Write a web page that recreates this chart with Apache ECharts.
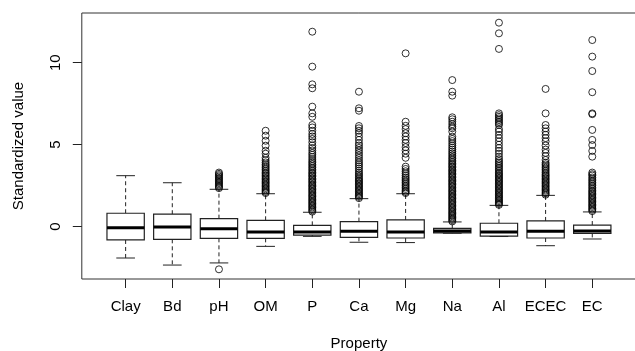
<!DOCTYPE html>
<html>
<head>
<meta charset="utf-8">
<script src="https://cdn.jsdelivr.net/npm/echarts@6/dist/echarts.min.js"></script>
<style>
  html, body { margin: 0; padding: 0; background: #fff; }
  #chart { width: 635px; height: 351px; }
</style>
</head>
<body>
<div id="chart"></div>
<script>
// box statistics
const categories = ["Clay", "Bd", "pH", "OM", "P", "Ca", "Mg", "Na", "Al", "ECEC", "EC"];
const whiskerLow  = [-1.91, -2.34, -2.21, -1.20, -0.59, -0.95, -0.97, -0.40, -0.60, -1.16, -0.75];
const q1          = [-0.81, -0.77, -0.71, -0.71, -0.51, -0.65, -0.69, -0.38, -0.57, -0.69, -0.41];
const median      = [-0.06, -0.02, -0.12, -0.32, -0.32, -0.28, -0.32, -0.26, -0.32, -0.28, -0.26];
const q3          = [0.82, 0.76, 0.49, 0.39, 0.08, 0.31, 0.41, -0.10, 0.21, 0.35, 0.10];
const whiskerHigh = [3.11, 2.68, 2.28, 2.01, 0.88, 1.71, 2.01, 0.29, 1.30, 1.91, 0.90];

const yTicks = [0, 5, 10];

// outliers per property
const outPh = [-2.6, 2.35, 2.42, 2.5, 2.58, 2.66, 2.74, 2.82, 2.9, 2.98, 3.06, 3.14, 3.22, 3.3];
const outOM = [2.05, 2.12, 2.2, 2.28, 2.36, 2.45, 2.53, 2.62, 2.7, 2.78, 2.87, 2.95, 3.04, 3.13,
  3.22, 3.3, 3.4, 3.5, 3.6, 3.7, 3.8, 3.92, 4.05, 4.2, 4.45, 4.63, 4.94, 5.24, 5.55, 5.85];
const outP = [0.92, 1.0, 1.08, 1.17, 1.25, 1.33, 1.42, 1.5, 1.58, 1.67, 1.75, 1.84, 1.92, 2.0,
  2.1, 2.18, 2.27, 2.35, 2.44, 2.52, 2.6, 2.7, 2.78, 2.87, 2.95, 3.05, 3.13, 3.22, 3.3, 3.4,
  3.5, 3.6, 3.7, 3.8, 3.9, 4.0, 4.12, 4.25, 4.38, 4.5, 4.65, 4.8, 4.95, 5.15, 5.35, 5.5,
  5.65, 5.85, 6.05, 6.2, 6.7, 6.91, 7.32, 8.44, 8.68, 9.76, 11.89];
const outCa = [1.74, 1.82, 1.9, 1.98, 2.06, 2.15, 2.23, 2.31, 2.4, 2.48, 2.57, 2.65, 2.74, 2.82,
  2.9, 3.0, 3.1, 3.2, 3.3, 3.42, 3.55, 3.68, 3.8, 3.92, 4.05, 4.2, 4.35, 4.5, 4.65, 4.8, 4.95,
  5.09, 5.29, 5.49, 5.7, 5.85, 6.0, 6.14, 7.07, 7.22, 8.23];
const outMg = [2.05, 2.12, 2.2, 2.3, 2.4, 2.5, 2.6, 2.7, 2.8, 2.9, 3.0, 3.12, 3.25, 3.38, 3.52,
  3.66, 4.2, 4.45, 4.65, 4.85, 5.1, 5.3, 5.5, 5.7, 5.95, 6.15, 6.4, 10.57];
const outNa = [0.32, 0.4, 0.48, 0.56, 0.64, 0.72, 0.8, 0.88, 0.96, 1.05, 1.13, 1.21, 1.3, 1.38,
  1.46, 1.55, 1.63, 1.72, 1.8, 1.88, 1.97, 2.05, 2.14, 2.22, 2.3, 2.4, 2.48, 2.57, 2.65, 2.74,
  2.82, 2.9, 3.0, 3.08, 3.17, 3.25, 3.34, 3.42, 3.5, 3.6, 3.68, 3.77, 3.86, 3.95, 4.05, 4.15,
  4.25, 4.36, 4.47, 4.58, 4.7, 4.82, 4.95, 5.08, 5.22, 5.35, 5.49, 5.8, 6.0, 6.1, 6.25, 6.4,
  6.55, 6.67, 7.99, 8.23, 8.94];
const outAl = [1.33, 1.4, 1.48, 1.56, 1.64, 1.72, 1.8, 1.88, 1.96, 2.05, 2.13, 2.21, 2.3, 2.38,
  2.46, 2.55, 2.63, 2.72, 2.8, 2.88, 2.97, 3.05, 3.14, 3.22, 3.3, 3.4, 3.5, 3.6, 3.7, 3.8,
  3.9, 4.0, 4.12, 4.27, 4.45, 4.62, 4.8, 5.0, 5.2, 5.4, 5.6, 5.8, 5.95, 6.2, 6.3, 6.4, 6.5,
  6.6, 6.7, 6.8, 6.91, 10.84, 11.79, 12.44];
const outECEC = [1.95, 2.03, 2.11, 2.2, 2.28, 2.36, 2.45, 2.53, 2.62, 2.7, 2.78, 2.87, 2.95, 3.04,
  3.12, 3.2, 3.3, 3.4, 3.5, 3.6, 3.7, 3.8, 3.9, 4.07, 4.3, 4.5, 4.7, 4.95, 5.2, 5.4, 5.6,
  5.8, 6.0, 6.2, 6.91, 8.4];
const outEC = [0.95, 1.03, 1.11, 1.2, 1.28, 1.36, 1.45, 1.53, 1.62, 1.7, 1.78, 1.87, 1.95, 2.04,
  2.12, 2.2, 2.3, 2.4, 2.5, 2.6, 2.7, 2.8, 2.9, 3.0, 3.12, 3.2, 3.3, 4.27, 4.62, 4.98, 5.29,
  5.9, 6.86, 6.91, 8.2, 9.49, 10.37, 11.38];

const outliers = { pH: outPh, OM: outOM, P: outP, Ca: outCa, Mg: outMg, Na: outNa,
  Al: outAl, ECEC: outECEC, EC: outEC };

let boxData = categories.map((c, i) => [i, whiskerLow[i], q1[i], median[i], q3[i], whiskerHigh[i]]);
let pointData = [];
Object.keys(outliers).forEach((k) => {
  outliers[k].forEach((v) => pointData.push([categories.indexOf(k), v]));
});

const font = "'Liberation Sans', Arial, sans-serif";
const ink = "#222";

let myChart = echarts.init(document.getElementById("chart"));

function renderBox(params, api) {
  let i = api.value(0);
  let band = api.size([1, 0])[0];
  let hw = band * 0.4; // box half width (boxwex 0.8)
  let cw = band * 0.2; // staple half width
  let pLo = api.coord([i, api.value(1)]);
  let pQ1 = api.coord([i, api.value(2)]);
  let pMed = api.coord([i, api.value(3)]);
  let pQ3 = api.coord([i, api.value(4)]);
  let pHi = api.coord([i, api.value(5)]);
  let cx = pMed[0];
  let solid = { stroke: ink, lineWidth: 1, fill: null };
  let dashed = { stroke: ink, lineWidth: 1, lineDash: [4, 3], fill: null };
  return {
    type: "group",
    children: [
      { type: "line", shape: { x1: cx, y1: pQ3[1], x2: cx, y2: pHi[1] }, style: dashed },
      { type: "line", shape: { x1: cx, y1: pQ1[1], x2: cx, y2: pLo[1] }, style: dashed },
      { type: "line", shape: { x1: cx - cw, y1: pHi[1], x2: cx + cw, y2: pHi[1] }, style: solid },
      { type: "line", shape: { x1: cx - cw, y1: pLo[1], x2: cx + cw, y2: pLo[1] }, style: solid },
      { type: "rect", shape: { x: cx - hw, y: pQ3[1], width: hw * 2, height: pQ1[1] - pQ3[1] },
        style: { stroke: ink, lineWidth: 1.2, fill: "#fff" } },
      { type: "line", shape: { x1: cx - hw, y1: pMed[1], x2: cx + hw, y2: pMed[1] },
        style: { stroke: "#000", lineWidth: 3 } },
    ],
  };
}

let option = {
  backgroundColor: "#fff",
  animation: false,
  textStyle: { fontFamily: font },
  grid: [
    // category bands: 11 x 46.67px
    { left: 102.3, top: 13, width: 513.3, height: 266, outerBoundsMode: "none", containLabel: false },
    // plot frame (R xlim extended 4%)
    { left: 81.8, top: 13, width: 554.7, height: 266, outerBoundsMode: "none", containLabel: false,
      show: true, borderColor: "#333", borderWidth: 1, backgroundColor: "transparent" },
  ],
  xAxis: [
    {
      gridIndex: 0,
      type: "category",
      data: categories,
      boundaryGap: true,
      name: "Property",
      nameLocation: "middle",
      nameGap: 57,
      nameTextStyle: { color: "#000", fontSize: 15, fontFamily: font },
      axisLine: { show: false, onZero: false },
      axisTick: { show: true, inside: false, alignWithLabel: true, length: 9,
        lineStyle: { color: "#222", width: 1 } },
      axisLabel: { color: "#000", fontSize: 15, margin: 20, interval: 0, fontFamily: font },
      splitLine: { show: false },
    },
    { gridIndex: 1, type: "value", min: 0, max: 1, show: false },
  ],
  yAxis: [
    {
      gridIndex: 0,
      type: "value",
      min: -3.19,
      max: 13.03,
      offset: 20.5,
      name: "Standardized value",
      nameLocation: "middle",
      nameRotate: 90,
      nameGap: 55,
      nameTextStyle: { color: "#000", fontSize: 15, fontFamily: font },
      axisLine: { show: false, onZero: false },
      axisTick: { show: true, inside: false, length: 9, customValues: yTicks,
        lineStyle: { color: "#222", width: 1 } },
      axisLabel: { color: "#000", fontSize: 15, rotate: 90, margin: 18,
        customValues: yTicks, fontFamily: font },
      splitLine: { show: false },
    },
    { gridIndex: 1, type: "value", min: 0, max: 1, show: false },
  ],
  series: [
    {
      name: "box",
      type: "custom",
      xAxisIndex: 0,
      yAxisIndex: 0,
      renderItem: renderBox,
      encode: { x: 0, y: [1, 2, 3, 4, 5] },
      data: boxData,
      z: 2,
    },
    {
      name: "outliers",
      type: "scatter",
      xAxisIndex: 0,
      yAxisIndex: 0,
      symbol: "circle",
      symbolSize: 7,
      itemStyle: { color: "rgba(0,0,0,0)", borderColor: "#000", borderWidth: 1 },
      data: pointData,
      z: 3,
    },
  ],
};

myChart.setOption(option);
window.onresize = function () {
  myChart.resize();
};
</script>
</body>
</html>
